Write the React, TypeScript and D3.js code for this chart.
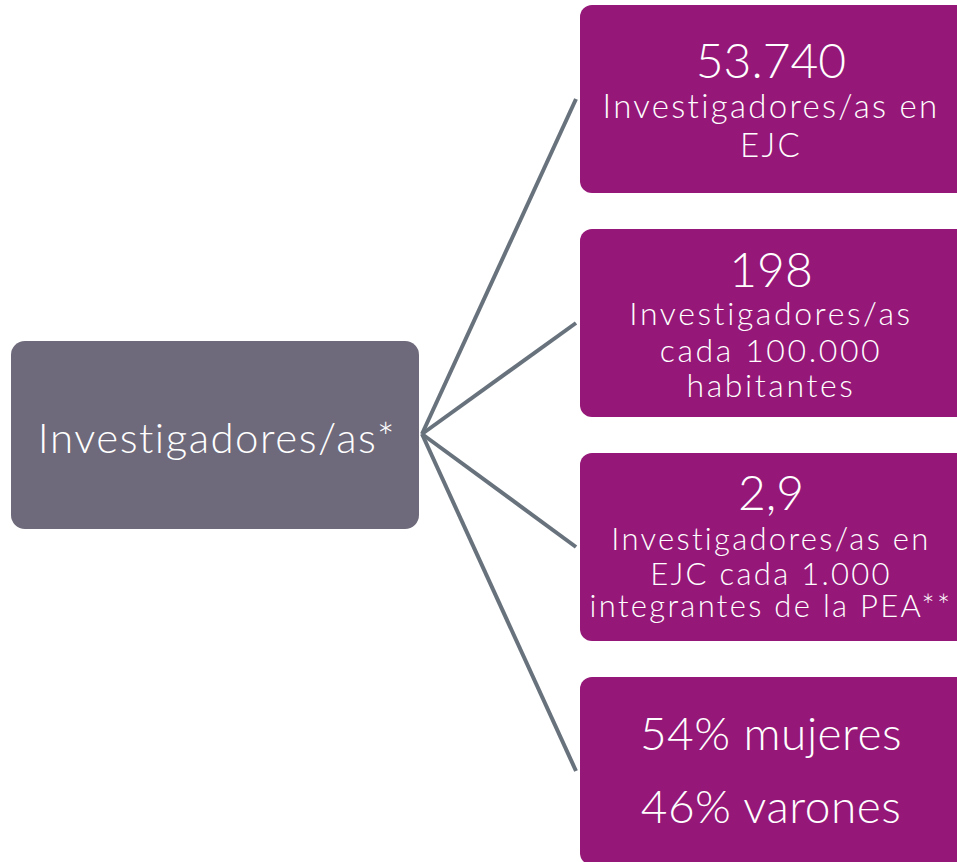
import React from "react";
import * as d3 from "d3";

// ---- data ----
const rootLabel = "Investigadores/as*";
const headlines = ["53.740", "198", "2,9", ""];
const bodyLines = [
  ["Investigadores/as en", "EJC"],
  ["Investigadores/as", "cada 100.000", "habitantes"],
  ["Investigadores/as en", "EJC cada 1.000", "integrantes de la PEA**"],
  ["54% mujeres", "46% varones"],
];

// ---- layout / style ----
const W = 957;
const H = 862;
const PURPLE = "#951878";
const GREY_BOX = "#6e6a7b";
const LINE = "#68727d";
const FONT = "Lato, 'DejaVu Sans', sans-serif";

// per-box text layout: baseline offsets relative to box top, font sizes
const headSize = [48, 48, 48, 0];
const bodySize = [33, 32, 31, 46];
const bodySpacing = [2.3, 2.6, 2.3, 0.5];
const headOffset = [73, 58, 57, 0];
const bodyOffsets = [
  [113, 152],
  [96, 133, 168],
  [97, 132, 164],
  [73, 146],
];

export default function App() {
  const idx = d3.range(headlines.length);
  const y = d3
    .scaleBand<number>()
    .domain(idx)
    .range([5, 865])
    .paddingInner(36 / 224)
    .paddingOuter(0);
  const boxX = 580;
  const boxW = 400;
  const root = { x: 11, y: 341, w: 408, h: 188 };
  const origin: [number, number] = [422, 434];
  const cx = 771;
  const txtStyle = { fontVariantLigatures: "none" as const };

  return (
    <div style={{ position: "absolute", left: 0, top: 0 }}>
      <svg width={W} height={H} style={{ display: "block", background: "#fff" }}>
        {idx.map((i) => {
          const yc = (y(i) as number) + y.bandwidth() / 2;
          return (
            <line
              key={"l" + i}
              x1={origin[0]}
              y1={origin[1]}
              x2={boxX - 4}
              y2={yc}
              stroke={LINE}
              strokeWidth={4}
            />
          );
        })}
        <rect
          x={root.x}
          y={root.y}
          width={root.w}
          height={root.h}
          rx={14}
          fill={GREY_BOX}
        />
        <text
          x={root.x + root.w / 2 + 2}
          y={453}
          textAnchor="middle"
          fill="#fff"
          fontFamily={FONT}
          fontWeight={300}
          fontSize={42}
          letterSpacing={1.5}
          style={txtStyle}
        >
          {rootLabel}
        </text>
        {idx.map((i) => {
          const top = y(i) as number;
          return (
            <g key={"b" + i}>
              <rect
                x={boxX}
                y={top}
                width={boxW}
                height={y.bandwidth()}
                rx={12}
                fill={PURPLE}
              />
              {headlines[i] && (
                <text
                  x={cx}
                  y={top + headOffset[i]}
                  textAnchor="middle"
                  fill="#fff"
                  fontFamily={FONT}
                  fontWeight={300}
                  fontSize={headSize[i]}
                  style={txtStyle}
                >
                  {headlines[i]}
                </text>
              )}
              {bodyLines[i].map((t, j) => (
                <text
                  key={j}
                  x={cx}
                  y={top + bodyOffsets[i][j]}
                  textAnchor="middle"
                  fill="#fff"
                  fontFamily={FONT}
                  fontWeight={300}
                  fontSize={bodySize[i]}
                  letterSpacing={bodySpacing[i]}
                  style={txtStyle}
                >
                  {t}
                </text>
              ))}
            </g>
          );
        })}
      </svg>
    </div>
  );
}
